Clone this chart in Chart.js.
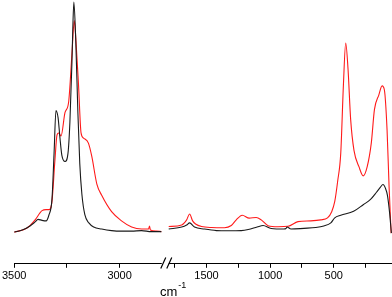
<!DOCTYPE html>
<html>
<head>
<meta charset="utf-8">
<script src="https://cdn.jsdelivr.net/npm/chart.js@4"></script>
<style>
  html, body { margin: 0; padding: 0; background: #fff; }
  #wrap { width: 392px; height: 297px; }
</style>
</head>
<body>
<div id="wrap"><canvas id="spectrum"></canvas></div>
<script>
// wavenumbers (cm-1) and intensities (a.u.)
const blackWnLeft = [3500,3462,3425,3401,3387,3368,3349,3335,3321,3311,3302,3292,3283,3274,3259,3245,3236,3226,3222,3217,3208,3198,3189,3179,3165,3146,3123,3085,3038,2991,2943,2896,2849,2802];
const blackLeft   = [0,2,6,10,12.5,11.5,11,17,32,77,119,112,92,75,69,77,107,167,200,225,187,117,67,37,17,9,5,3,1.5,1,1,1.5,0.5,0.5];
const redWnLeft   = [3500,3439,3401,3377,3368,3349,3335,3321,3307,3297,3289,3278,3259,3242,3226,3215,3208,3195,3183,3171,3148,3132,3108,3085,3038,2991,2943,2896,2863,2858,2854,2825,2802];
const redLeft     = [0,4,12,19,21,22,22,30,70,95,97,94,117,127,175,207,190,144,97,92,87,74,47,36,20,11,5,3,3,6,2,1,0.5];

const blackWnRight = [1797,1695,1656,1633,1594,1516,1422,1328,1227,1172,1102,1055,992,891,875,867,836,734,641,578,523,492,445,344,266,211,164,133,113,94,78,62,47];
const blackRight   = [3,5,7,9,5,3,1.5,1.3,1.5,2.5,5,6.5,3.5,3,3.5,5,3,3.7,4.5,6,9,14,16.5,20.3,27,32,39,44,46.5,43,36,20,-1];
const redWnRight   = [1797,1695,1656,1633,1609,1586,1539,1461,1359,1305,1266,1219,1164,1109,1070,1016,938,859,781,680,602,549,516,492,469,445,424,406,388,367,341,302,268,237,205,180,146,120,102,81,65,49];
const redRight     = [5.5,7,12,17.7,11,8,5.5,4.5,4.3,6.5,12,16.5,13.7,14.3,12,6.3,5.3,5.7,10.3,11,12,14,20,30,50,77,144,185,160,110,80,64,55,64,87,120,134,143,139,100,44,-1];

const tickWn     = [3500,3250,3000,1750,1500,1250,1000,750,500,250];
const tickLabels = ['3500','','3000','','1500','','1000','','500',''];

// broken axis: 3500-2800 and 1800-50 share one linear scale
function axisPos(w) {
    return w >= 2000 ? (3500 - w) * 0.212 : 155 + (1800 - w) * 0.128;
}

function buildSeries(wnL, valL, wnR, valR) {
    const pts = wnL.map((w, i) => ({ x: axisPos(w), y: valL[i] }));
    pts.push({ x: (axisPos(2800) + axisPos(1800)) / 2, y: null });
    wnR.forEach((w, i) => pts.push({ x: axisPos(w), y: valR[i] }));
    return pts;
}

// axis line with the // break, and the cm-1 title
const brokenAxis = {
    id: 'brokenAxis',
    afterDraw(chart) {
        const ctx = chart.ctx;
        const xs = chart.scales.x;
        const area = chart.chartArea;
        const y0 = Math.round(area.bottom) + 0.5;
        const a = xs.getPixelForValue(axisPos(2800));
        const b = xs.getPixelForValue(axisPos(1800));
        ctx.save();
        ctx.strokeStyle = '#000';
        ctx.lineWidth = 1.2;
        ctx.beginPath();
        ctx.moveTo(area.left, y0);
        ctx.lineTo(a, y0);
        ctx.moveTo(b, y0);
        ctx.lineTo(area.right, y0);
        ctx.moveTo(a - 1, y0 + 5);
        ctx.lineTo(a + 4, y0 - 6);
        ctx.moveTo(a + 5, y0 + 5);
        ctx.lineTo(a + 10, y0 - 6);
        ctx.stroke();

        ctx.fillStyle = '#000';
        ctx.textBaseline = 'alphabetic';
        ctx.textAlign = 'left';
        ctx.font = '13px "Liberation Sans", Arial, sans-serif';
        const tx = (a + b) / 2 - 5;
        const ty = chart.height - 1;
        ctx.fillText('cm', tx, ty);
        const w = ctx.measureText('cm').width;
        ctx.font = '9px "Liberation Sans", Arial, sans-serif';
        ctx.fillText('-1', tx + w + 1, ty - 8);
        ctx.restore();
    }
};

const ctx = document.getElementById('spectrum').getContext('2d');
const spectrumChart = new Chart(ctx, {
    type: 'line',
    data: {
        datasets: [{
            label: 'black',
            data: buildSeries(blackWnLeft, blackLeft, blackWnRight, blackRight),
            borderColor: '#1a1a1a',
            borderWidth: 1.1,
            pointRadius: 0,
            cubicInterpolationMode: 'monotone',
            spanGaps: false
        }, {
            label: 'red',
            data: buildSeries(redWnLeft, redLeft, redWnRight, redRight),
            borderColor: '#ff1a1a',
            borderWidth: 1.1,
            pointRadius: 0,
            cubicInterpolationMode: 'monotone',
            spanGaps: false
        }]
    },
    options: {
        responsive: true,
        maintainAspectRatio: false,
        animation: false,
        layout: { padding: { left: -6, right: 0, top: 0, bottom: 12 } },
        plugins: {
            legend: { display: false },
            tooltip: { enabled: false }
        },
        scales: {
            x: {
                type: 'linear',
                min: 0,
                max: 380,
                afterBuildTicks: function(scale) {
                    scale.ticks = tickWn.map(w => ({ value: axisPos(w) }));
                },
                ticks: {
                    autoSkip: false,
                    maxRotation: 0,
                    padding: 2,
                    color: '#000',
                    font: { family: '"Liberation Sans", Arial, sans-serif', size: 11 },
                    callback: function(value, index) {
                        return tickLabels[index];
                    }
                },
                grid: {
                    display: true,
                    drawOnChartArea: false,
                    drawTicks: true,
                    tickLength: 5,
                    color: '#000',
                    lineWidth: 1
                },
                border: { display: false }
            },
            y: {
                display: false,
                min: -30,
                max: 227
            }
        }
    },
    plugins: [brokenAxis]
});
</script>
</body>
</html>
